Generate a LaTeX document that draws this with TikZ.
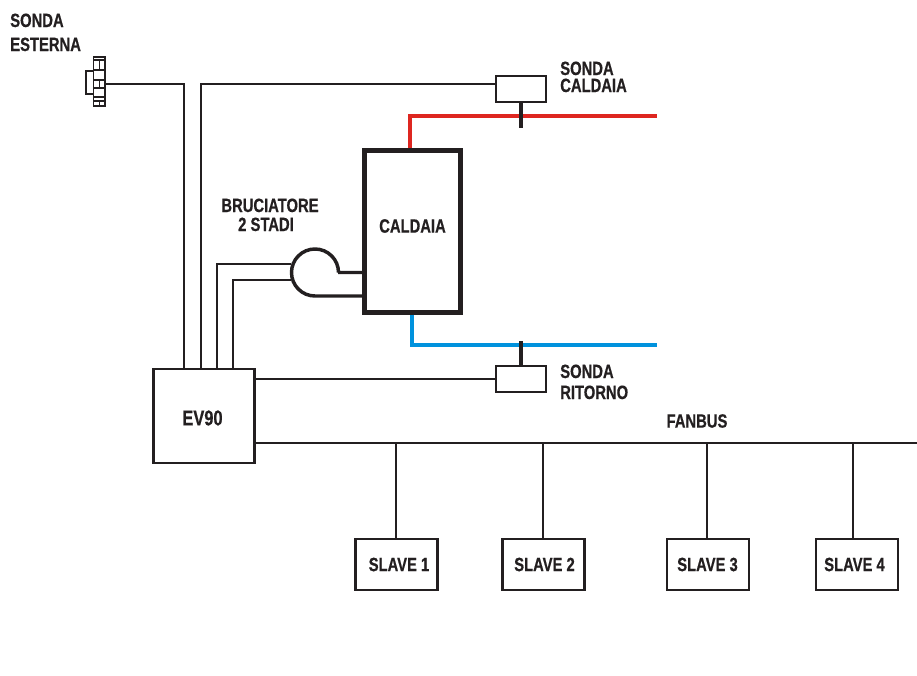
\documentclass[tikz,border=0pt]{standalone}
\usepackage{fontspec}
\setmainfont{Liberation Sans}[BoldFeatures={FakeStretch=0.77,FakeBold=0.6}]
\usetikzlibrary{positioning,calc}
\definecolor{inkblack}{RGB}{35,31,32}
\definecolor{hotred}{RGB}{222,38,32}
\definecolor{coldblue}{RGB}{0,146,221}
\tikzset{
  lbl/.style={font=\bfseries\fontsize{14.4pt}{12.6pt}\selectfont, text=inkblack, inner sep=0pt},
  unitbox/.style={draw=inkblack, line width=1.9pt, fill=white, inner sep=0pt},
  slavebox/.style={unitbox, line width=1.7pt, minimum width=61.5pt, minimum height=38pt},
  sensorbox/.style={unitbox, line width=1.6pt, minimum width=37.5pt, minimum height=19.5pt},
  wire/.style={draw=inkblack, line width=0.8pt},
  pipe/.style={line width=3.6pt},
}
\begin{document}
\begin{tikzpicture}[x=0.75pt,y=-0.75pt]
  \useasboundingbox (0,0) rectangle (917,675);

  % boiler and controller
  \node[unitbox, line width=3.2pt, minimum width=72pt, minimum height=121.5pt] (caldaia) at (412.5,231.5) {};
  \node[unitbox, minimum width=75.5pt, minimum height=70.5pt] (ev) at (204,416) {};

  % probes
  \node[sensorbox] (sondacald) at (521,89) {};
  \node[sensorbox] (sondarit) at (521,379) {};
  \coordinate (stemc) at (521,128);
  \coordinate (stemr) at (521,341);

  % outer probe plug
  \coordinate (plug) at (105,84);
  \draw[draw=inkblack, line width=0.8pt] (93.5,71) rectangle (86,94);
  \draw[draw=inkblack, fill=white, line width=1.1pt] (93.5,57) rectangle (105,106);
  \foreach \y in {60,70,80,88,97,101}
    \draw[draw=inkblack, line width=1.1pt] (93.5,\y) -- (105,\y);
  \draw[draw=inkblack, line width=1.1pt] (99.5,60) -- (99.5,70) (99.5,80) -- (99.5,88) (99.5,101) -- (99.5,106);

  % pipes
  \draw[hotred, pipe] (caldaia.north -| 410,0) -- (410,116) -- (657,116);
  \draw[coldblue, pipe] (caldaia.south -| 412,0) -- (412,345) -- (657,345);
  \draw[inkblack, pipe] (sondacald.south) -- (stemc);
  \draw[inkblack, pipe] (sondarit.north) -- (stemr);

  % wires to controller
  \draw[wire] (plug) -- (184,84) -- (ev.north -| 184,0);
  \draw[wire] (sondacald.west |- 0,84) -- (201,84) -- (ev.north -| 201,0);
  \draw[wire] (291,264) -- (217,264) -- (ev.north -| 217,0);
  \draw[wire] (291,280) -- (233,280) -- (ev.north -| 233,0);
  \draw[wire, line width=1.1pt] (ev.east |- sondarit.west) -- (sondarit.west);

  % burner
  \draw[draw=inkblack, line width=2.6pt] (caldaia.west |- 0,296) -- (315,296) arc[start angle=90, end angle=360, radius=23.5] -- (338,272.5) -- (caldaia.west |- 0,272.5);

  % fanbus
  \coordinate (busend) at (917,443);
  \draw[wire, line width=1.4pt] (ev.east |- busend) -- (busend);
  \foreach \n/\x/\bx/\tx in {1/396/396.5/399, 2/543/543.5/544.5, 3/707/708/707.5, 4/853/857/854.5}{
    \coordinate (tap\n) at (\x,443);
    \node[slavebox] (slave\n) at (\bx,564.5) {};
    \draw[wire] (tap\n) -- (tap\n |- slave\n.north);
    \node[lbl] (slavelbl\n) at (\tx,564.5) {SLAVE \n};
  }

  % labels
  \node[lbl] (caldaialbl) at (412.5,226) {CALDAIA};
  \node[lbl] (evlbl) at (202.5,418) {\fontsize{16pt}{14pt}\selectfont EV90};
  \node[lbl, anchor=base west] (esterna) at (10,27) {SONDA};
  \node[lbl, anchor=base west] (esterna2) at (10,51) {ESTERNA};
  \node[lbl, anchor=base west] (lblcald) at (560,75) {SONDA};
  \node[lbl, anchor=base west] (lblcald2) at (560,92) {CALDAIA};
  \node[lbl, anchor=base west] (lblrit) at (560,378) {SONDA};
  \node[lbl, anchor=base west] (lblrit2) at (560,399) {RITORNO};
  \node[lbl, anchor=base] (brucia) at (270,212) {BRUCIATORE};
  \node[lbl, anchor=base] (brucia2) at (266,231) {2 STADI};
  \node[lbl] (fanbus) at (697,421) {FANBUS};
\end{tikzpicture}
\end{document}
